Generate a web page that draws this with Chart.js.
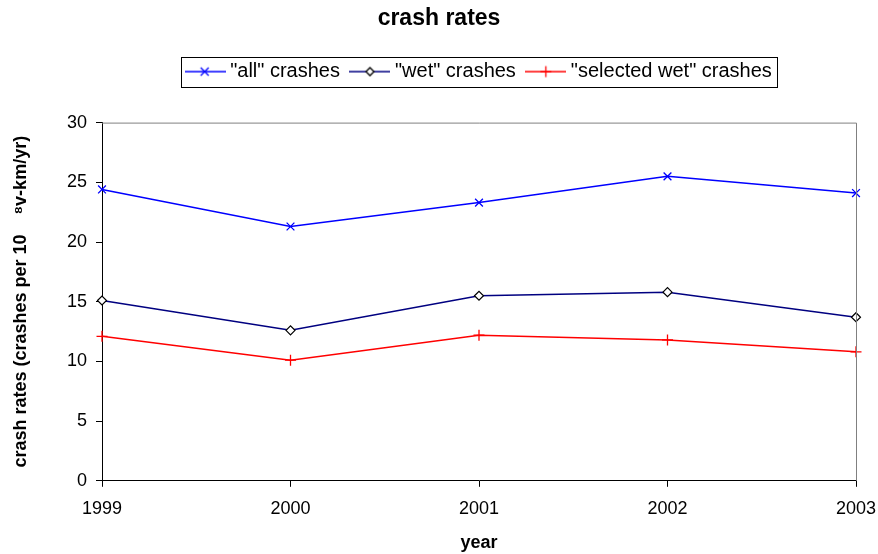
<!DOCTYPE html>
<html>
<head>
<meta charset="utf-8">
<script src="https://cdn.jsdelivr.net/npm/chart.js@4"></script>
<style>
  html, body { margin: 0; padding: 0; background: #fff; }
  #wrap { width: 878px; height: 554px; }
</style>
</head>
<body>
<div id="wrap"><canvas id="chart_ctx"></canvas></div>
<script>
// data
const years = ['1999', '2000', '2001', '2002', '2003'];
const allCrashes = [24.4, 21.3, 23.3, 25.5, 24.1];
const wetCrashes = [15.1, 12.6, 15.5, 15.8, 13.7];
const selectedWet = [12.1, 10.1, 12.2, 11.8, 10.8];
const yTicks = [0, 5, 10, 15, 20, 25, 30];

Chart.defaults.font.family = '"Liberation Sans", Arial, sans-serif';
Chart.defaults.color = '#000';

// little line+marker pictures for the legend
function legendIcon(color, marker, markerStroke) {
    var c = document.createElement('canvas');
    c.width = 41; c.height = 14;
    var g = c.getContext('2d');
    g.strokeStyle = color;
    g.lineWidth = 1.5;
    g.beginPath(); g.moveTo(0, 7); g.lineTo(41, 7); g.stroke();
    g.strokeStyle = markerStroke || color;
    g.lineWidth = 1.3;
    g.beginPath();
    if (marker === 'x') {
        g.moveTo(16, 3); g.lineTo(24, 11); g.moveTo(24, 3); g.lineTo(16, 11);
    } else if (marker === '+') {
        g.moveTo(15, 7); g.lineTo(26, 7); g.moveTo(20.5, 1.5); g.lineTo(20.5, 12.5);
    } else {
        g.moveTo(20.5, 3); g.lineTo(24.5, 7); g.lineTo(20.5, 11); g.lineTo(16.5, 7); g.closePath();
        g.fillStyle = '#fff'; g.fill();
    }
    g.stroke();
    return c;
}
const icons = [
    legendIcon('#0000FF', 'x'),
    legendIcon('#000080', 'd', '#000'),
    legendIcon('#FF0000', '+')
];

// legend sits right of centre and has extra room below it
const legendShift = {
    id: 'legendShift',
    afterInit(chart) {
        const lg = chart.legend;
        const orig = lg.fit.bind(lg);
        lg.fit = function () {
            orig();
            this.height += 31;
            this.lineWidths[0] -= 84;
        };
    }
};

// legend frame + gray plot border
const frames = {
    id: 'frames',
    afterDraw(chart) {
        const g = chart.ctx;
        const a = chart.chartArea;
        g.save();
        g.strokeStyle = '#808080';
        g.lineWidth = 1;
        g.beginPath();
        g.moveTo(a.left, a.top + 0.5); g.lineTo(a.right + 0.5, a.top + 0.5); g.lineTo(a.right + 0.5, a.bottom);
        g.stroke();
        const hb = chart.legend.legendHitBoxes;
        if (hb && hb.length) {
            const l = Math.min(...hb.map(h => h.left)) - 9;
            const r = Math.max(...hb.map(h => h.left + h.width)) + 5;
            const c = hb[0].top + hb[0].height / 2;
            g.strokeStyle = '#000';
            g.strokeRect(Math.round(l) + 0.5, Math.round(c - 15) + 0.5, Math.round(r - l), 30);
        }
        g.restore();
    }
};

var myChart = new Chart(document.getElementById('chart_ctx'), {
    type: 'line',
    data: {
        labels: years,
        datasets: [{
            label: '"all" crashes',
            data: allCrashes,
            borderColor: '#0000FF',
            borderWidth: 1.5,
            pointStyle: 'crossRot',
            pointRadius: 5.5,
            pointBorderColor: '#0000FF',
            pointBorderWidth: 1.3,
            tension: 0
        }, {
            label: '"wet" crashes',
            data: wetCrashes,
            borderColor: '#000080',
            borderWidth: 1.5,
            pointStyle: 'rectRot',
            pointRadius: 4.5,
            pointBackgroundColor: '#fff',
            pointBorderColor: '#000',
            pointBorderWidth: 1.2,
            tension: 0
        }, {
            label: '"selected wet" crashes',
            data: selectedWet,
            borderColor: '#FF0000',
            borderWidth: 1.5,
            pointStyle: 'cross',
            pointRadius: 5.5,
            pointBorderColor: '#FF0000',
            pointBorderWidth: 1.3,
            tension: 0
        }]
    },
    options: {
        animation: false,
        responsive: true,
        maintainAspectRatio: false,
        events: [],
        layout: { padding: { left: 22, right: 22, top: 0, bottom: 0 } },
        plugins: {
            tooltip: { enabled: false },
            title: {
                display: true,
                text: 'crash rates',
                font: { size: 23, weight: 'bold' },
                padding: { top: 5, bottom: 14 }
            },
            legend: {
                display: true,
                labels: {
                    usePointStyle: true,
                    pointStyleWidth: 30,
                    font: { size: 20 },
                    padding: 15,
                    generateLabels: function (chart) {
                        return chart.data.datasets.map(function (ds, i) {
                            return {
                                text: ds.label,
                                pointStyle: icons[i],
                                fillStyle: ds.borderColor,
                                strokeStyle: ds.borderColor,
                                lineWidth: 0,
                                datasetIndex: i,
                                fontColor: '#000'
                            };
                        });
                    }
                }
            }
        },
        scales: {
            x: {
                offset: false,
                afterFit: function (scale) { scale.paddingRight = 0; },
                grid: { display: true, drawOnChartArea: false, drawTicks: true, tickLength: 6, color: '#000' },
                border: { display: true, color: '#000' },
                ticks: { font: { size: 18 }, padding: 11, maxRotation: 0 },
                title: {
                    display: true,
                    text: 'year',
                    font: { size: 18, weight: 'bold' },
                    padding: { top: 2, bottom: 0 }
                }
            },
            y: {
                min: 0,
                max: 30,
                afterBuildTicks: function (scale) {
                    scale.ticks = yTicks.map(function (v) { return { value: v }; });
                },
                afterFit: function (scale) { scale.width = 80; },
                grid: { display: true, drawOnChartArea: false, drawTicks: true, tickLength: 6, color: '#000' },
                border: { display: true, color: '#000' },
                ticks: { font: { size: 18 }, padding: 9 },
                title: {
                    display: true,
                    text: 'crash rates (crashes per 10    \u2078v-km/yr)',
                    font: { size: 18, weight: 'bold' },
                    padding: { top: -12, bottom: 10 }
                }
            }
        }
    },
    plugins: [legendShift, frames]
});
</script>
</body>
</html>
